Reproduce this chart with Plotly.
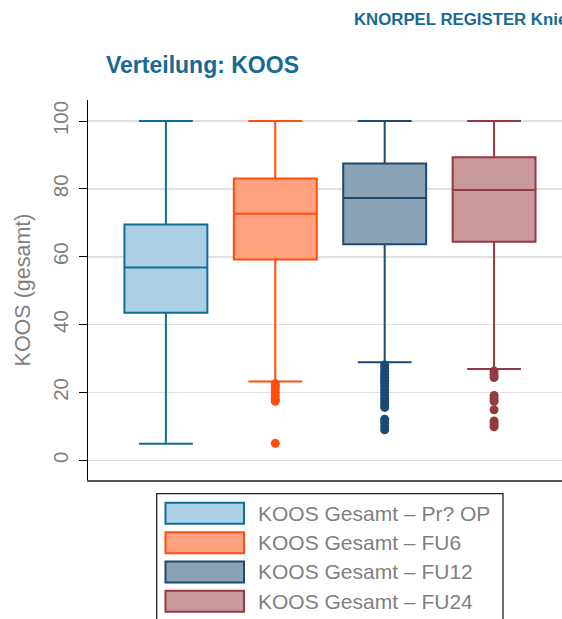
import plotly.graph_objects as go

# ---------------- data ----------------
groups = ["KOOS Gesamt – Pr? OP", "KOOS Gesamt – FU6", "KOOS Gesamt – FU12", "KOOS Gesamt – FU24"]
q1 = [43.5, 59.2, 63.7, 64.4]
median = [56.8, 72.7, 77.3, 79.7]
q3 = [69.5, 83.1, 87.5, 89.3]
lower_whisker = [4.9, 23.2, 28.9, 26.9]
upper_whisker = [100, 100, 100, 100]

outliers_preop = []
outliers_fu6 = [22.6, 22.0, 21.0, 20.0, 19.0, 18.0, 17.4, 5.0]
outliers_fu12 = [28.1, 27.2, 26.3, 25.4, 24.5, 23.6, 22.7, 21.8, 20.9, 20.0, 19.0, 18.1, 17.2, 16.3, 15.6,
                 12.1, 11.1, 10.0, 9.0]
outliers_fu24 = [26.3, 25.3, 24.4, 19.1, 18.2, 17.4, 14.9, 11.6, 10.7, 9.9]
outliers = [outliers_preop, outliers_fu6, outliers_fu12, outliers_fu24]

y_ticks = [0, 20, 40, 60, 80, 100]

# ---------------- style ----------------
fill_colors = ["#abd0e6", "#fea17f", "#8aa3b7", "#c8989b"]
line_colors = ["#136c96", "#ff4e0c", "#1d4a73", "#933a43"]
title_color = "#166a94"
grey_text = "#7f7f7f"
FONT = "Liberation Sans, Arial, Helvetica, sans-serif"

W, H = 562, 619
PL, PR, PT, PB = 88, 562, 100, 479.7   # plot area in pixels


def px_x(x):
    return (x - PL) / (PR - PL)


def px_y(y):
    return (PB - y) / (PB - PT)


fig = go.Figure()

for i, g in enumerate(groups):
    fig.add_trace(go.Box(
        x=[i], q1=[q1[i]], median=[median[i]], q3=[q3[i]],
        lowerfence=[lower_whisker[i]], upperfence=[upper_whisker[i]],
        width=0.758, whiskerwidth=0.65,
        fillcolor=fill_colors[i], line=dict(color=line_colors[i], width=2),
        boxpoints=False, name=g, showlegend=False, hoverinfo="skip",
    ))
    if outliers[i]:
        fig.add_trace(go.Scatter(
            x=[i] * len(outliers[i]), y=outliers[i], mode="markers",
            marker=dict(color=line_colors[i], size=9, line=dict(width=0)),
            showlegend=False, hoverinfo="skip",
        ))

shapes = []
annotations = []

# legend (drawn manually to reproduce the wide colour keys)
shapes.append(dict(type="rect", xref="paper", yref="paper",
                   x0=px_x(156.7), x1=px_x(503), y0=px_y(493.3), y1=px_y(640),
                   line=dict(color="#222222", width=1.3), fillcolor="white", layer="above"))
row_centers = [513, 542.3, 571.6, 600.9]
for i, g in enumerate(groups):
    yc = row_centers[i]
    shapes.append(dict(type="rect", xref="paper", yref="paper",
                       x0=px_x(165.5), x1=px_x(244), y0=px_y(yc - 10.5), y1=px_y(yc + 10.5),
                       line=dict(color=line_colors[i], width=2), fillcolor=fill_colors[i], layer="above"))
    annotations.append(dict(text=g, xref="paper", yref="paper", x=px_x(256), y=px_y(yc),
                            xanchor="left", yanchor="middle", showarrow=False,
                            font=dict(family=FONT, size=21, color=grey_text)))

# header text
annotations.append(dict(text="<b>KNORPEL REGISTER Knie</b>", xref="paper", yref="paper",
                        x=px_x(352), y=px_y(20), xanchor="left", yanchor="middle", showarrow=False,
                        font=dict(family=FONT, size=16.8, color=title_color)))

fig.update_layout(
    width=W, height=H,
    margin=dict(l=PL, r=W - PR, t=PT, b=H - PB, pad=0),
    paper_bgcolor="white", plot_bgcolor="white",
    font=dict(family=FONT, color=grey_text),
    title=dict(text="<b>Verteilung: KOOS</b>", xref="container", yref="container",
               x=106 / W, y=1 - 64.5 / H, xanchor="left", yanchor="middle",
               font=dict(family=FONT, size=23, color=title_color)),
    showlegend=False,
    hovermode=False,
    shapes=shapes,
    annotations=annotations,
    xaxis=dict(range=[-0.712, 3.621], showticklabels=False, ticks="", showgrid=False,
               zeroline=False, showline=True, linecolor="#555555", linewidth=2, fixedrange=True),
    yaxis=dict(range=[-5.8, 106.2], tickvals=y_ticks, ticktext=[str(t) for t in y_ticks],
               tickangle=-90, ticks="outside", ticklen=8, tickcolor="black", tickwidth=1,
               ticklabelstandoff=3, fixedrange=True,
               tickfont=dict(family=FONT, size=20.5, color=grey_text),
               showgrid=True, gridcolor="#e0e0e0", gridwidth=1.6, zeroline=False,
               showline=True, linecolor="black", linewidth=1,
               title=dict(text="KOOS (gesamt)", standoff=12,
                          font=dict(family=FONT, size=21.5, color=grey_text))),
)

fig.write_html(
    "out.html",
    config={"displayModeBar": False, "staticPlot": True},
    post_script="document.body.style.margin='0';document.body.style.padding='0';"
                "document.body.style.overflow='hidden';document.documentElement.style.overflow='hidden';",
)
